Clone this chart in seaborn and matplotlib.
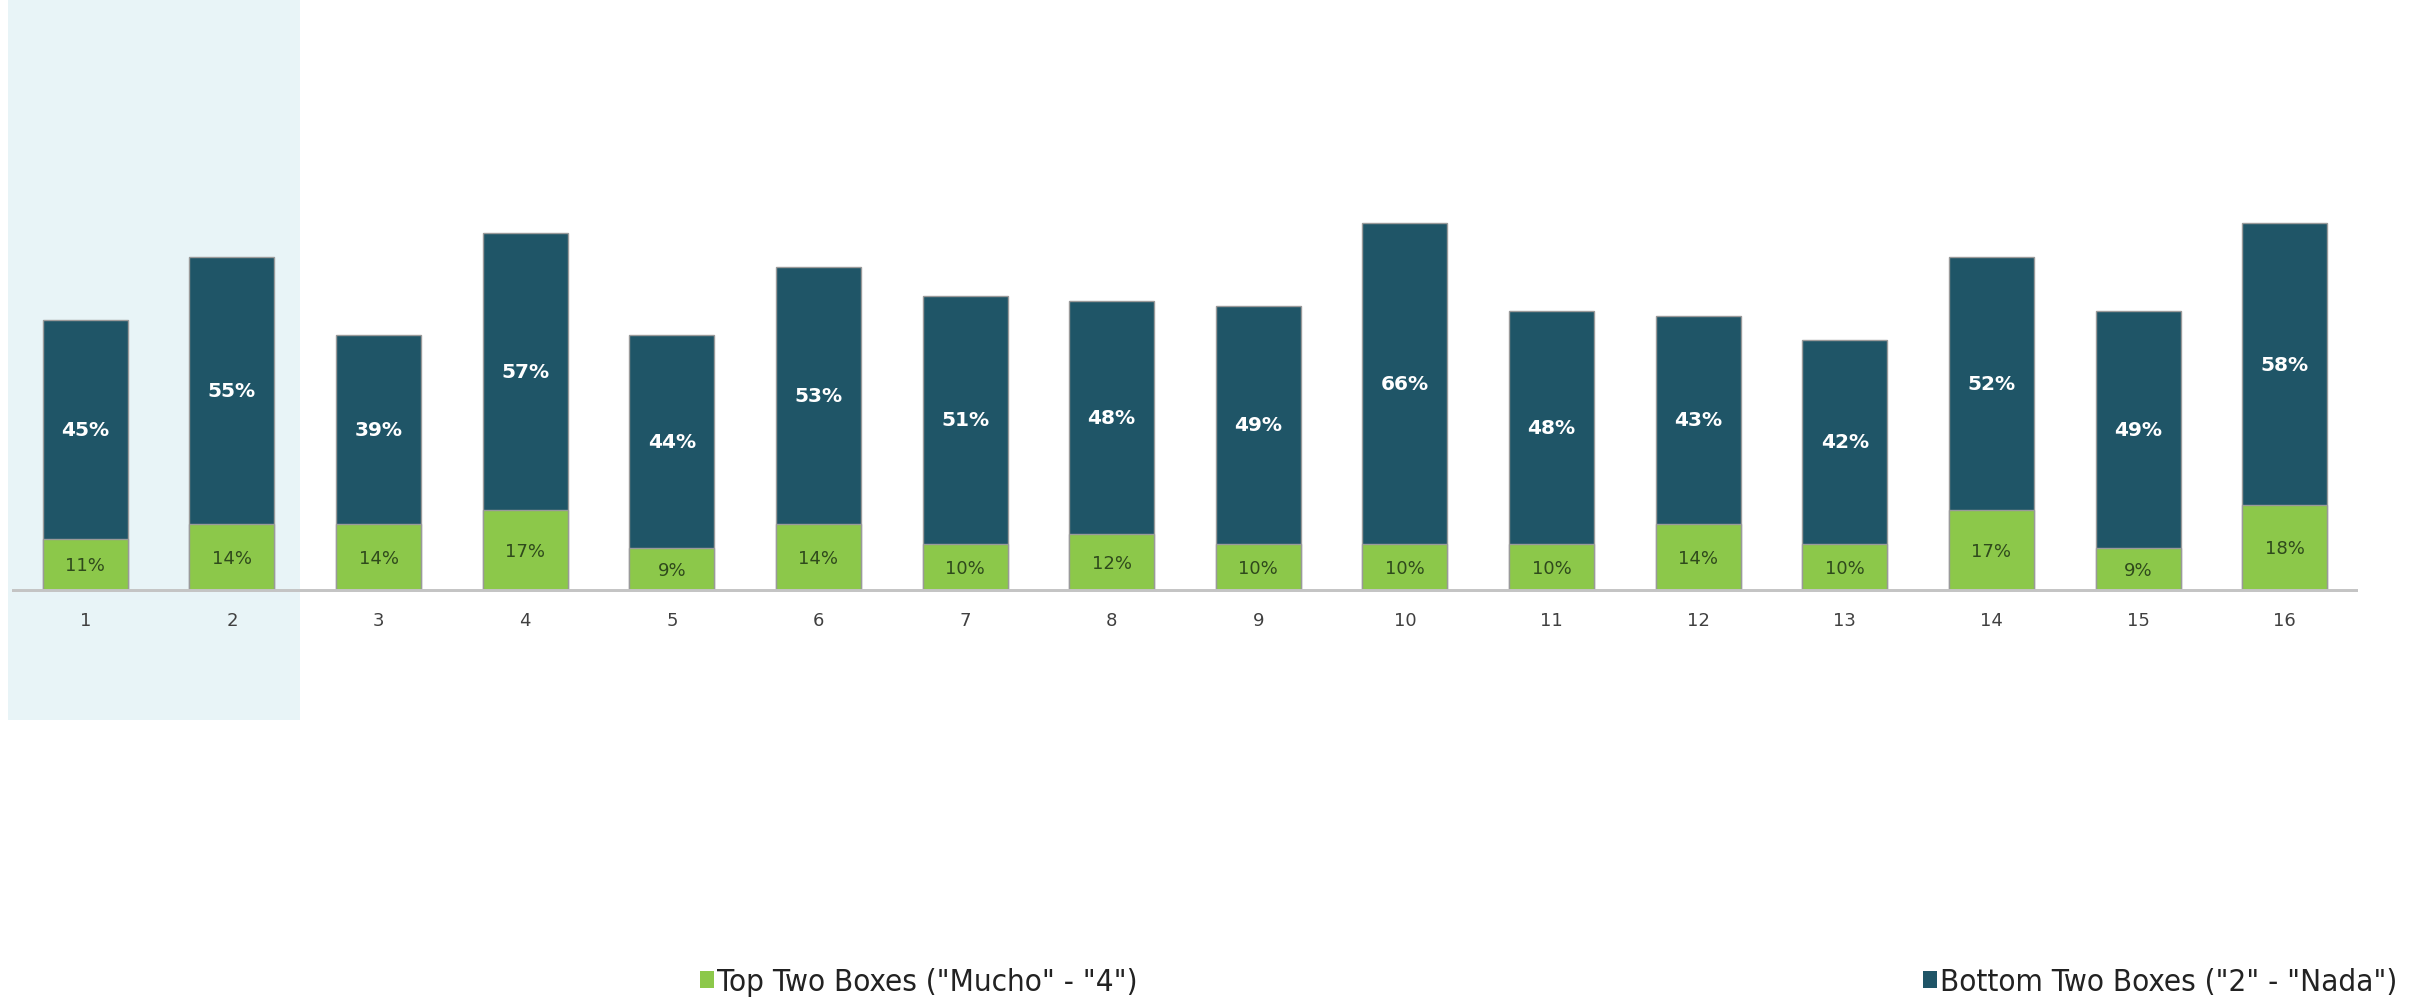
import numpy as np
import pandas as pd
import matplotlib
matplotlib.use("Agg")
import matplotlib.pyplot as plt
from matplotlib.patches import Rectangle, Patch
import seaborn as sns

# values (in %)
categories = [str(i) for i in range(1, 17)]
top_two = [11, 14, 14, 17, 9, 14, 10, 12, 10, 10, 10, 14, 10, 17, 9, 18]
bottom_two = [45, 55, 39, 57, 44, 53, 51, 48, 49, 66, 48, 43, 42, 52, 49, 58]
legend_labels = ['Top Two Boxes ("Mucho" - "4")', 'Bottom Two Boxes ("2" - "Nada")']

DARK = "#1F5567"
GREEN = "#8CC84A"
SHADE = "#E8F4F7"

df = pd.DataFrame({"cat": categories, "top": top_two, "bottom": bottom_two})
df["total"] = df["top"] + df["bottom"]

sns.set_style("white")
fig = plt.figure(figsize=(24.27, 10.04), dpi=100)

# highlighted area behind the first two categories
fig.patches.append(Rectangle((8 / 2427, 1 - 721 / 1004), 292 / 2427, 721 / 1004,
                             transform=fig.transFigure, facecolor=SHADE,
                             edgecolor="none", zorder=-1))

ax = fig.add_axes([12 / 2427, 411 / 1004, 2346 / 2427, 388 / 1004])
ax.set_facecolor("none")
ax.set_zorder(1)

sns.barplot(data=df, x="cat", y="total", order=categories, color=DARK, width=0.58,
            saturation=1, edgecolor="#9a9a9a", linewidth=1, ax=ax, zorder=2)
sns.barplot(data=df, x="cat", y="top", order=categories, color=GREEN, width=0.58,
            saturation=1, edgecolor="#9a9a9a", linewidth=1, ax=ax, zorder=3)

for i, row in df.iterrows():
    ax.text(i, row["top"] + row["bottom"] / 2, f"{row['bottom']}%", ha="center", va="center",
            color="white", fontsize=14.5, fontweight="bold", zorder=4)
    ax.text(i, row["top"] / 2, f"{row['top']}%", ha="center", va="center",
            color="#2F4A1C", fontsize=13, zorder=4)

ax.axhline(0, color="#C4C4C4", lw=5, zorder=5)
ax.set_xlim(-0.5, 15.5)
ax.set_ylim(0, 80)
ax.set_xlabel("")
ax.set_ylabel("")
ax.set_yticks([])
ax.tick_params(axis="x", length=0, pad=14, labelsize=13, labelcolor="#404040")
sns.despine(ax=ax, left=True, bottom=True)

leg_font = {"family": ["DejaVu Sans"], "stretch": "condensed", "size": 22.5}
for label, col, xpos in [(legend_labels[0], GREEN, 700), (legend_labels[1], DARK, 1923)]:
    fig.legend(handles=[Patch(facecolor=col, edgecolor="none", label=label)],
               loc="center left", bbox_to_anchor=(xpos / 2427, 1 - 983 / 1004),
               frameon=False, prop=leg_font, handlelength=0.45, handleheight=0.5,
               handletextpad=0.1, borderpad=0, borderaxespad=0, labelcolor="#222222")

fig.savefig("out.png", dpi=100, facecolor="white")
